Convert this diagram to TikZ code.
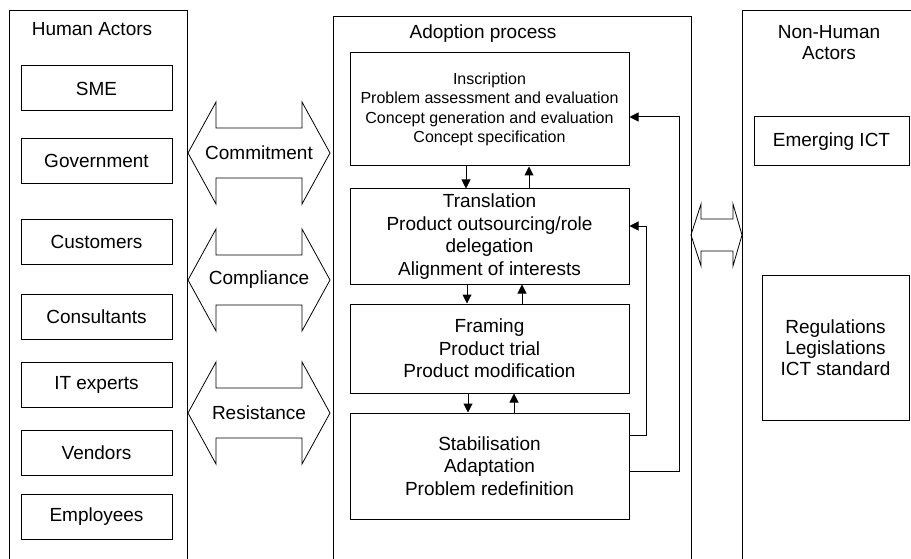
\documentclass[tikz,border=0pt]{standalone}
\usepackage{fontspec}
\setmainfont{Liberation Sans}
\usetikzlibrary{arrows.meta}

\tikzset{
  box/.style={draw, line width=1pt, align=center, inner sep=2pt},
  actor/.style={box, minimum width=151pt, minimum height=45pt},
  stage/.style={box, minimum width=279pt},
  flow/.style={line width=1pt, -{Triangle[length=9pt,width=9pt]}},
  small/.style={font=\fontsize{16pt}{19.5pt}\selectfont}
}

\begin{document}
\begin{tikzpicture}[x=1pt,y=-1pt, line width=0.8pt, font=\fontsize{19pt}{22.5pt}\selectfont]
  \useasboundingbox (0,0) rectangle (911,559);
  \clip (0,0) rectangle (911,559);
  % the three columns run off the page at the bottom
  \draw (9,10) rectangle (187,580);
  \draw (333,16) rectangle (691,580);
  \draw (742,10) rectangle (930,580);
  \node (human) at (92,29) {Human Actors};
  \node (adopt) at (483,34) {Adoption process};
  \node[align=center, font=\fontsize{19pt}{21pt}\selectfont] (nonhuman) at (829,43) {Non-Human\\Actors};

  % human actors
  \foreach \y/\nm/\txt in {88.5/sme/SME, 161/gov/Government, 242/cust/Customers,
      317/cons/Consultants, 384.5/itx/IT experts, 452.5/vend/Vendors, 516.5/empl/Employees}
    \node[actor] (\nm) at (96.5,\y) {\txt};

  % adoption stages
  \node[stage, small, minimum height=113pt] (insc) at (489.5,109.5)
    {Inscription\\Problem assessment and evaluation\\Concept generation and evaluation\\Concept specification};
  \node[stage, minimum height=95pt] (trans) at (489.5,236.5)
    {Translation\\Product outsourcing/role\\delegation\\Alignment of interests};
  \node[stage, minimum height=89pt] (fram) at (489.5,348.5)
    {Framing\\Product trial\\Product modification};
  \node[stage, minimum height=106pt] (stab) at (489.5,466)
    {Stabilisation\\Adaptation\\Problem redefinition};

  \draw[flow] ([xshift=-23.5pt]insc.south) -- ([xshift=-23.5pt]trans.north);
  \draw[flow] ([xshift=39.5pt]trans.north) -- ([xshift=39.5pt]insc.south);
  \draw[flow] ([xshift=-22.5pt]trans.south) -- ([xshift=-22.5pt]fram.north);
  \draw[flow] ([xshift=32.5pt]fram.north) -- ([xshift=32.5pt]trans.south);
  \draw[flow] ([xshift=-21.5pt]fram.south) -- ([xshift=-21.5pt]stab.north);
  \draw[flow] ([xshift=24.5pt]stab.north) -- ([xshift=24.5pt]fram.south);
  % feedback
  \draw[flow] ([yshift=31pt]stab.east) -- ++(17,0) |- ([yshift=10.5pt]trans.east);
  \draw[flow] ([yshift=-5pt]stab.east) -- ++(50,0) |- ([yshift=-7.5pt]insc.east);

  % non-human actors
  \node[box, minimum width=155pt, minimum height=49pt] (ict) at (831.5,141.5) {Emerging ICT};
  \node[box, minimum width=147pt, minimum height=145pt, font=\fontsize{19pt}{21pt}\selectfont] (reg) at (835.5,347.5)
    {Regulations\\Legislations\\ICT standard};

  % relations
  \foreach \y/\nm/\txt in {153/commit/Commitment, 280/compl/Compliance, 413/resist/Resistance}{
    \draw (188,\y) -- (216,\y-51) -- (216,\y-25) -- (302,\y-25) -- (302,\y-51) -- (330,\y)
      -- (302,\y+51) -- (302,\y+25) -- (216,\y+25) -- (216,\y+51) -- cycle;
    \node (\nm) at (259,\y) {\txt};
  }
  \draw (691,235) -- (701,204) -- (701,219) -- (733,219) -- (733,204) -- (742,235)
    -- (733,266) -- (733,251) -- (701,251) -- (701,266) -- cycle;
\end{tikzpicture}
\end{document}
